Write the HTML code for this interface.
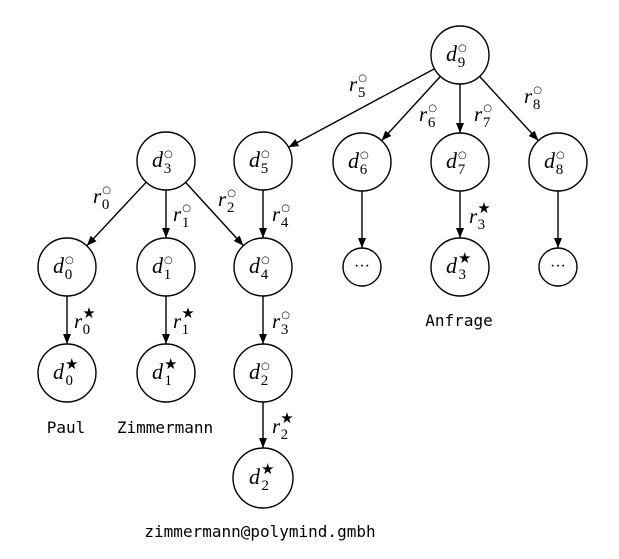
<!DOCTYPE html>
<html><head><meta charset="utf-8"><style>
html,body{margin:0;padding:0;background:#fff;}
svg{display:block;}
.n{fill:#fff;stroke:#000;stroke-width:1.4;}
.e{stroke:#000;stroke-width:1.4;fill:none;marker-end:url(#a);}
.m{font-family:"Liberation Serif",serif;font-style:italic;font-size:22px;}
.s{font-size:15px;font-style:normal;}
.o{font-size:10px;font-style:normal;font-family:"DejaVu Sans",sans-serif;}
.l{font-family:"Liberation Serif",serif;font-style:italic;font-size:21px;}
.t{font-family:"DejaVu Sans Mono","Liberation Mono",monospace;font-size:16px;}
</style></head><body>
<svg width="619" height="559" viewBox="0 0 619 559" xmlns="http://www.w3.org/2000/svg">
<defs><marker id="a" viewBox="0 0 10 8" refX="10" refY="4" markerWidth="10" markerHeight="8" markerUnits="userSpaceOnUse" orient="auto"><path d="M0,0 L10,4 L0,8 z" fill="#000"/></marker></defs>
<line class="e" x1="146.2" y1="182.2" x2="86.8" y2="245.8"/>
<line class="e" x1="166" y1="190" x2="166" y2="238"/>
<line class="e" x1="185.6" y1="182.4" x2="243.4" y2="245.6"/>
<line class="e" x1="263" y1="190" x2="263" y2="238"/>
<line class="e" x1="263" y1="296" x2="263" y2="344"/>
<line class="e" x1="263" y1="402" x2="263" y2="448"/>
<line class="e" x1="67" y1="296" x2="67" y2="344"/>
<line class="e" x1="166" y1="296" x2="166" y2="344"/>
<line class="e" x1="434.5" y1="68.7" x2="288.5" y2="147.3"/>
<line class="e" x1="440.4" y1="76.4" x2="381.6" y2="140.6"/>
<line class="e" x1="460" y1="84" x2="460" y2="133"/>
<line class="e" x1="479.6" y1="76.4" x2="538.4" y2="140.6"/>
<line class="e" x1="362" y1="191" x2="362" y2="248"/>
<line class="e" x1="558" y1="191" x2="558" y2="248"/>
<line class="e" x1="460" y1="191" x2="460" y2="238"/>

<g>
<circle class="n" cx="460" cy="55" r="29"/><text class="m" x="446" y="61">d<tspan class="o" dx="1" dy="-10">○</tspan><tspan class="s" dx="-9" dy="16">9</tspan></text>
<circle class="n" cx="166" cy="161" r="29"/><text class="m" x="152" y="167">d<tspan class="o" dx="1" dy="-10">○</tspan><tspan class="s" dx="-9" dy="16">3</tspan></text>
<circle class="n" cx="263" cy="161" r="29"/><text class="m" x="249" y="167">d<tspan class="o" dx="1" dy="-10">○</tspan><tspan class="s" dx="-9" dy="16">5</tspan></text>
<circle class="n" cx="362" cy="162" r="29"/><text class="m" x="348" y="168">d<tspan class="o" dx="1" dy="-10">○</tspan><tspan class="s" dx="-9" dy="16">6</tspan></text>
<circle class="n" cx="460" cy="162" r="29"/><text class="m" x="446" y="168">d<tspan class="o" dx="1" dy="-10">○</tspan><tspan class="s" dx="-9" dy="16">7</tspan></text>
<circle class="n" cx="558" cy="162" r="29"/><text class="m" x="544" y="168">d<tspan class="o" dx="1" dy="-10">○</tspan><tspan class="s" dx="-9" dy="16">8</tspan></text>
<circle class="n" cx="67" cy="267" r="29"/><text class="m" x="53" y="273">d<tspan class="o" dx="1" dy="-10">○</tspan><tspan class="s" dx="-9" dy="16">0</tspan></text>
<circle class="n" cx="166" cy="267" r="29"/><text class="m" x="152" y="273">d<tspan class="o" dx="1" dy="-10">○</tspan><tspan class="s" dx="-9" dy="16">1</tspan></text>
<circle class="n" cx="263" cy="267" r="29"/><text class="m" x="249" y="273">d<tspan class="o" dx="1" dy="-10">○</tspan><tspan class="s" dx="-9" dy="16">4</tspan></text>
<circle class="n" cx="362" cy="267" r="19"/><text x="362" y="271" text-anchor="middle" font-family="Liberation Serif,serif" font-size="16">···</text>
<circle class="n" cx="558" cy="267" r="19"/><text x="558" y="271" text-anchor="middle" font-family="Liberation Serif,serif" font-size="16">···</text>
<circle class="n" cx="460" cy="267" r="29"/><text class="m" x="446" y="273">d<tspan class="s" dx="1" dy="-10">★</tspan><tspan class="s" dx="-13" dy="16">3</tspan></text>
<circle class="n" cx="67" cy="373" r="29"/><text class="m" x="53" y="379">d<tspan class="s" dx="1" dy="-10">★</tspan><tspan class="s" dx="-13" dy="16">0</tspan></text>
<circle class="n" cx="166" cy="373" r="29"/><text class="m" x="152" y="379">d<tspan class="s" dx="1" dy="-10">★</tspan><tspan class="s" dx="-13" dy="16">1</tspan></text>
<circle class="n" cx="263" cy="373" r="29"/><text class="m" x="249" y="379">d<tspan class="o" dx="1" dy="-10">○</tspan><tspan class="s" dx="-9" dy="16">2</tspan></text>
<circle class="n" cx="263" cy="478" r="30"/><text class="m" x="249" y="484">d<tspan class="s" dx="1" dy="-10">★</tspan><tspan class="s" dx="-13" dy="16">2</tspan></text>
</g>

<g class="l">
<text x="93" y="203">r<tspan class="o" dx="1" dy="-10">○</tspan><tspan class="s" dx="-9" dy="16">0</tspan></text>
<text x="173" y="221">r<tspan class="o" dx="1" dy="-10">○</tspan><tspan class="s" dx="-9" dy="16">1</tspan></text>
<text x="218" y="206">r<tspan class="o" dx="1" dy="-10">○</tspan><tspan class="s" dx="-9" dy="16">2</tspan></text>
<text x="272" y="221">r<tspan class="o" dx="1" dy="-10">○</tspan><tspan class="s" dx="-9" dy="16">4</tspan></text>
<text x="74" y="328">r<tspan class="s" dy="-10">★</tspan><tspan class="s" dx="-13" dy="16">0</tspan></text>
<text x="173" y="328">r<tspan class="s" dy="-10">★</tspan><tspan class="s" dx="-13" dy="16">1</tspan></text>
<text x="272" y="328">r<tspan class="o" dx="1" dy="-10">○</tspan><tspan class="s" dx="-9" dy="16">3</tspan></text>
<text x="272" y="433">r<tspan class="s" dy="-10">★</tspan><tspan class="s" dx="-13" dy="16">2</tspan></text>
<text x="349" y="91">r<tspan class="o" dx="1" dy="-10">○</tspan><tspan class="s" dx="-9" dy="16">5</tspan></text>
<text x="419" y="121">r<tspan class="o" dx="1" dy="-10">○</tspan><tspan class="s" dx="-9" dy="16">6</tspan></text>
<text x="474" y="121">r<tspan class="o" dx="1" dy="-10">○</tspan><tspan class="s" dx="-9" dy="16">7</tspan></text>
<text x="524" y="103">r<tspan class="o" dx="1" dy="-10">○</tspan><tspan class="s" dx="-9" dy="16">8</tspan></text>
<text x="469" y="223">r<tspan class="s" dy="-10">★</tspan><tspan class="s" dx="-13" dy="16">3</tspan></text>
</g>

<g class="t">
<text x="66" y="433" text-anchor="middle">Paul</text>
<text x="165" y="433" text-anchor="middle">Zimmermann</text>
<text x="459" y="326" text-anchor="middle">Anfrage</text>
<text x="260" y="537" text-anchor="middle">zimmermann@polymind.gmbh</text>
</g>
</svg>
</body></html>
